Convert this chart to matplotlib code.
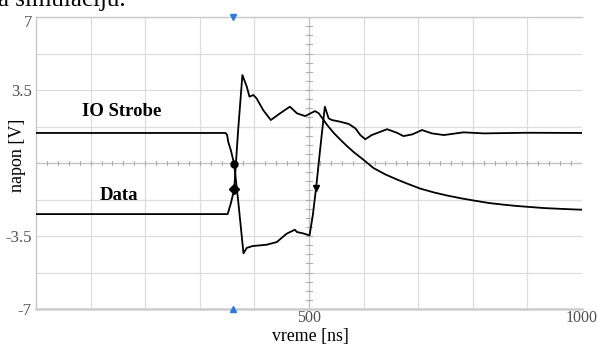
import matplotlib
matplotlib.use("Agg")
import matplotlib.pyplot as plt
import matplotlib.transforms as mtransforms
import numpy as np

plt.rcParams['axes.unicode_minus'] = False
SERIF = ['Liberation Serif', 'DejaVu Serif']

# ---- data (time in ns, voltage in V) ----
strobe_t = [0, 347, 350, 352, 357, 363, 371, 380, 386, 397, 410, 422, 441, 459, 474, 478,
            490, 501, 507, 513, 521, 529, 536, 542, 557, 573, 585, 594, 603, 615, 643,
            661, 673, 689, 707, 725, 747, 783, 820, 900, 1000]
strobe_v = [1.44, 1.44, 1.35, 1.02, 0.6, -0.06, -2.0, -4.33, -4.07, -3.98, -3.95, -3.92,
            -3.79, -3.39, -3.2, -3.31, -3.38, -3.47, -2.5, -1.2, 0.8, 2.7, 2.14, 2.06,
            1.98, 1.87, 1.66, 1.34, 1.14, 1.34, 1.62, 1.45, 1.29, 1.37, 1.58, 1.42,
            1.34, 1.47, 1.42, 1.45, 1.44]

data_t = [0, 351, 357, 363, 370, 378, 386, 391, 398, 404, 416, 430, 447, 465, 478, 493,
          511, 518, 533, 545, 557, 570, 582, 600, 618, 640, 661, 680, 704, 730, 753, 780,
          802, 830, 857, 880, 905, 930, 954, 980, 1000]
data_v = [-2.45, -2.45, -1.92, -1.26, 1.5, 4.22, 3.66, 3.18, 3.26, 3.1, 2.54, 2.06, 2.38,
          2.7, 2.38, 2.25, 2.49, 2.38, 1.83, 1.45, 1.13, 0.8, 0.52, 0.15, -0.24, -0.55,
          -0.79, -0.99, -1.23, -1.42, -1.56, -1.70, -1.80, -1.92, -2.0, -2.06, -2.11,
          -2.16, -2.19, -2.22, -2.24]

marker_t = [363, 363, 513]
marker_v = [-0.06, -1.26, -1.2]
marker_shapes = ['o', 'D', 'v']

trigger_t = 361
ytick_vals = [-7, -3.5, 3.5, 7]
ytick_labels = ['-7', '-3.5', '3.5', '7']
xtick_vals = [500, 1000]
xtick_labels = ['500', '1000']

fig = plt.figure(figsize=(5.97, 3.44), dpi=100)
ax = fig.add_axes([36/597, 35/344, 546/597, 292/344])
ax.set_xlim(0, 1000)
ax.set_ylim(-7, 7)

# grid
for gx in range(100, 1000, 100):
    if gx != 500:
        ax.axvline(gx, color='#dddddd', lw=0.9, zorder=0)
for gy in [-5.25, -3.5, -1.75, 1.75, 3.5, 5.25]:
    ax.axhline(gy, color='#dddddd', lw=0.9, zorder=0)
# center crosshair with minor ticks
ax.axvline(500, color='#c4c4c4', lw=1.0, zorder=0)
ax.axhline(0, color='#c4c4c4', lw=1.0, zorder=0)
for mx in np.arange(0, 1001, 20):
    ax.plot([mx, mx], [-0.1, 0.1], color='#b0b0b0', lw=0.8, zorder=0)
for my in np.arange(-7, 7.01, 0.4375):
    ax.plot([495, 505], [my, my], color='#b0b0b0', lw=0.8, zorder=0)

ax.plot(strobe_t, strobe_v, color='black', lw=1.3, zorder=3)
ax.plot(data_t, data_v, color='black', lw=1.3, zorder=3)
for t, v, m in zip(marker_t, marker_v, marker_shapes):
    ax.plot([t], [v], marker=m, color='black', ms=5, zorder=4)

ax.plot([trigger_t], [7], marker='v', color='#2a7be0', ms=4, clip_on=False, zorder=5)
ax.plot([trigger_t], [-7], marker='^', color='#2a7be0', ms=4, clip_on=False, zorder=5)

ax.text(84, 2.45, 'IO Strobe', family=SERIF, fontweight='bold', fontsize=13.5,
        va='center', ha='left')
ax.text(117, -1.57, 'Data', family=SERIF, fontweight='bold', fontsize=13.5,
        va='center', ha='left')

for s in ['top', 'left']:
    ax.spines[s].set_color('#c8c8c8')
    ax.spines[s].set_linewidth(1.0)
ax.spines['bottom'].set_color('#cccccc')
ax.spines['bottom'].set_linewidth(1.8)
ax.spines['right'].set_visible(False)

ax.set_yticks(ytick_vals)
ax.set_yticklabels(ytick_labels, family=SERIF, fontsize=12, color='#505050')
ax.set_xticks(xtick_vals)
ax.set_xticklabels(xtick_labels, family=SERIF, fontsize=11.5, color='#505050')
ax.tick_params(axis='both', length=0)
ax.tick_params(axis='y', pad=3)
ax.tick_params(axis='x', pad=1)

# nudge the top "7" label slightly down, as in the reference
top_lbl = ax.get_yticklabels()[-1]
top_lbl.set_transform(top_lbl.get_transform() +
                      mtransforms.ScaledTranslation(0, -4/100, fig.dpi_scale_trans))

fig.text(17.5/597, 1 - 155/344, 'napon [V]', family=SERIF, fontsize=13, rotation=90,
         ha='center', va='center')
fig.text(310/597, 1 - 341/344, 'vreme [ns]', family=SERIF, fontsize=12.8,
         ha='center', va='baseline')
fig.text(-2/597, 1 - 6/344, 'a simulaciju.', family=SERIF, fontsize=18,
         ha='left', va='baseline')

fig.savefig('out.png', dpi=100)
